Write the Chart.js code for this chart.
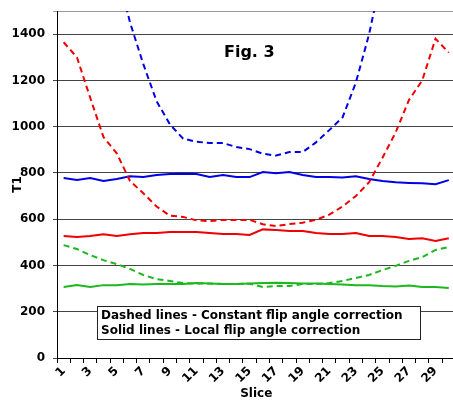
<!DOCTYPE html>
<html>
<head>
<meta charset="utf-8">
<script src="https://cdn.jsdelivr.net/npm/chart.js@4.4.0/dist/chart.umd.min.js"></script>
<style>
  html, body { margin: 0; padding: 0; background: #fff; overflow: hidden; }
  canvas { display: block; }
</style>
</head>
<body>
<canvas id="fig3" width="460" height="402"></canvas>
<script>
// Slice numbers 1..30
const slices = [1, 2, 3, 4, 5, 6, 7, 8, 9, 10, 11, 12, 13, 14, 15,
                16, 17, 18, 19, 20, 21, 22, 23, 24, 25, 26, 27, 28, 29, 30];

// Dashed lines - constant flip angle correction
const blueDashed = [2700, 2450, 2200, 1950, 1680, 1450, 1270, 1110, 1010, 948,
                    935, 929, 929, 912, 903, 883, 875, 890, 890, 932,
                    985, 1040, 1190, 1400, 1670, 1950, 2250, 2550, 2850, 3150];
const redDashed = [1365, 1300, 1125, 955, 885, 765, 712, 655, 615, 610,
                   595, 592, 597, 597, 597, 578, 570, 579, 585, 597,
                   620, 655, 700, 760, 865, 975, 1115, 1200, 1380, 1320];
const greenDashed = [488, 471, 445, 423, 406, 385, 359, 341, 333, 324,
                     322, 322, 320, 320, 321, 307, 311, 311, 320, 320,
                     324, 333, 346, 359, 380, 398, 420, 436, 467, 480];

// Solid lines - local flip angle correction
const blueSolid = [778, 769, 778, 765, 774, 786, 782, 791, 795, 797,
                   795, 782, 791, 782, 782, 804, 799, 804, 791, 782,
                   782, 780, 786, 774, 765, 760, 757, 755, 751, 769];
const redSolid = [527, 523, 527, 535, 527, 535, 540, 540, 545, 545,
                  545, 540, 536, 536, 532, 556, 553, 549, 549, 540,
                  536, 536, 540, 527, 527, 523, 514, 518, 506, 518];
const greenSolid = [307, 315, 307, 315, 315, 320, 318, 320, 320, 320,
                    324, 322, 320, 320, 322, 324, 325, 324, 322, 322,
                    320, 318, 315, 315, 311, 309, 313, 307, 307, 303];

const yTicks = [0, 200, 400, 600, 800, 1000, 1200, 1400];
const yMax = 1500;

const BLUE = '#0000e6';
const RED = '#f00000';
const GREEN = '#1db81d';
const FONT = 'DejaVu Sans';

function line(data, color, dashed) {
  return {
    data: data,
    borderColor: color,
    backgroundColor: color,
    borderWidth: 2,
    borderDash: dashed ? [6, 4] : [],
    pointRadius: 0,
    tension: 0,
    fill: false
  };
}

// Figure label and the note box inside the plot
const notes = {
  id: 'notes',
  afterDatasetsDraw(chart) {
    const ctx = chart.ctx;
    ctx.save();
    ctx.fillStyle = '#000';
    ctx.font = 'bold 16px ' + FONT;
    ctx.textBaseline = 'middle';
    ctx.fillText('Fig. 3', 224, 53);

    ctx.fillStyle = '#fff';
    ctx.fillRect(97, 306, 324, 34);
    ctx.strokeStyle = '#222';
    ctx.lineWidth = 1;
    ctx.strokeRect(97.5, 306.5, 323, 33);
    ctx.fillStyle = '#000';
    ctx.font = 'bold 12px ' + FONT;
    ctx.fillText('Dashed lines - Constant flip angle correction', 101, 316, 315);
    ctx.fillText('Solid lines - Local flip angle correction', 101, 331, 282);
    ctx.restore();
  }
};

new Chart(document.getElementById('fig3'), {
  type: 'line',
  data: {
    labels: slices,
    datasets: [
      line(blueDashed, BLUE, true),
      line(redDashed, RED, true),
      line(greenDashed, GREEN, true),
      line(blueSolid, BLUE, false),
      line(redSolid, RED, false),
      line(greenSolid, GREEN, false)
    ]
  },
  options: {
    responsive: false,
    animation: false,
    layout: { padding: { top: 11, right: 1, left: 0, bottom: 0 } },
    plugins: {
      legend: { display: false },
      tooltip: { enabled: false }
    },
    scales: {
      x: {
        type: 'category',
        offset: true,
        afterFit: s => { s.height = 44; },
        grid: {
          offset: true,
          drawOnChartArea: false,
          color: '#000',
          tickLength: 5
        },
        border: { color: '#000', width: 1 },
        ticks: {
          autoSkip: false,
          minRotation: 45,
          maxRotation: 45,
          padding: 1,
          color: '#000',
          font: { family: FONT, size: 12, weight: 'bold' },
          callback: (v, i) => (slices[i] % 2 === 1 ? String(slices[i]) : '')
        },
        title: {
          display: true,
          text: 'Slice',
          color: '#000',
          font: { family: FONT, size: 12, weight: 'bold' },
          padding: { top: 0, bottom: 1 }
        }
      },
      y: {
        min: 0,
        max: yMax,
        afterFit: s => { s.width = 57; s.paddingTop = 0; s.paddingBottom = 0; },
        afterBuildTicks: s => { s.ticks = yTicks.concat([yMax]).map(v => ({ value: v })); },
        grid: {
          color: ctx => (ctx.tick && ctx.tick.value === yMax ? '#999' : '#444'),
          tickLength: 4
        },
        border: { color: '#000', width: 1 },
        ticks: {
          padding: 8,
          color: '#000',
          font: { family: FONT, size: 12, weight: 'bold' },
          callback: v => (yTicks.includes(v) ? String(v) : '')
        },
        title: {
          display: true,
          text: 'T1',
          color: '#000',
          font: { family: FONT, size: 12, weight: 'bold' },
          padding: { top: 11, bottom: 0 }
        }
      }
    }
  },
  plugins: [notes]
});
</script>
</body>
</html>
